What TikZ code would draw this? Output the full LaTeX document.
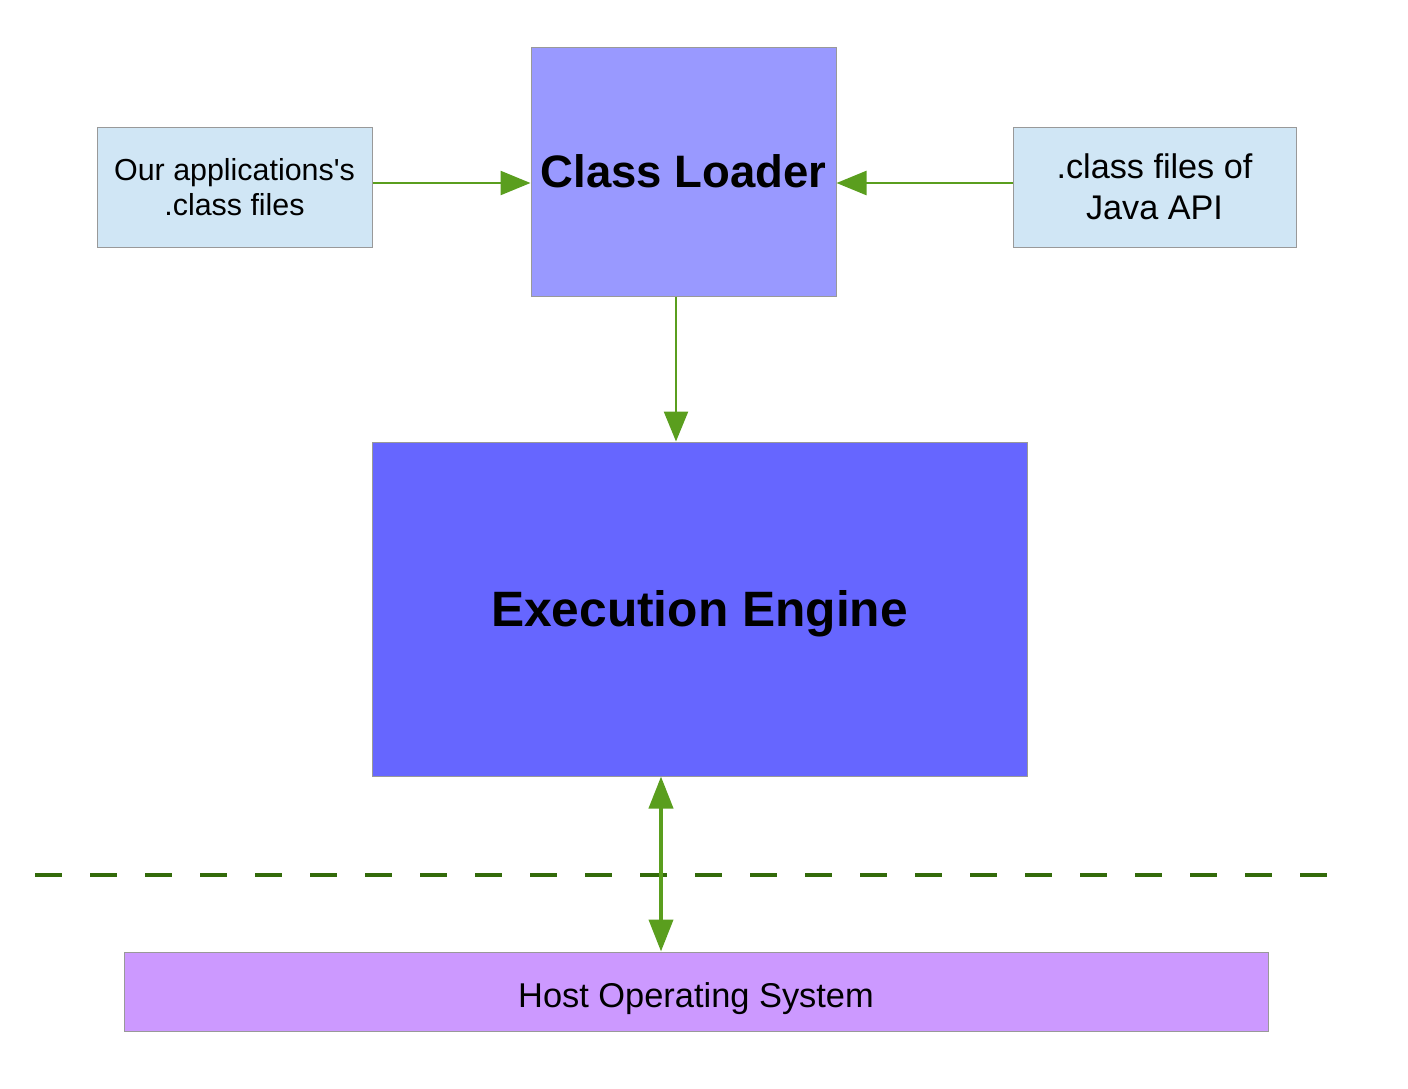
\documentclass[tikz,border=0pt]{standalone}
\usepackage{fontspec}
\setmainfont{Liberation Sans}
\usetikzlibrary{arrows.meta}
\definecolor{filebox}{HTML}{D0E6F5}
\definecolor{loaderbox}{HTML}{9999FF}
\definecolor{enginebox}{HTML}{6666FF}
\definecolor{hostbox}{HTML}{CC99FF}
\definecolor{arrowgreen}{HTML}{5A9E1E}
\definecolor{linegreen}{HTML}{336B0A}
\tikzset{
  box/.style={draw=gray!80, line width=1pt, inner sep=0pt, align=center},
  flow/.style={draw=arrowgreen, line width=2.5pt, -{Triangle[length=30pt,width=24pt]}},
}
\begin{document}
\begin{tikzpicture}[x=1pt, y=-1pt]
    \useasboundingbox (0,0) rectangle (1408,1088);

    \node[box, fill=filebox, minimum width=275pt, minimum height=120pt,
      font=\fontsize{30.4}{35}\selectfont] (app) at (234.5,187)
      {Our applications\textquotesingle s\\ .class files};
    \node[box, fill=loaderbox, minimum width=305pt, minimum height=249pt,
      font=\fontsize{45.5}{50}\selectfont\bfseries] (loader) at (683.5,171.5)
      {Class Loader};
    \node[box, fill=filebox, minimum width=283pt, minimum height=120pt,
      font=\fontsize{34.2}{41}\selectfont] (api) at (1154.5,187)
      {.class files of\\ Java API};
    \node[box, fill=enginebox, minimum width=655pt, minimum height=334pt,
      font=\fontsize{49.7}{50}\selectfont\bfseries, text height=45pt, text depth=10pt] (engine) at (699.5,609)
      {Execution Engine};
    \node[box, fill=hostbox, minimum width=1144pt, minimum height=79pt,
      font=\fontsize{34.4}{40}\selectfont, text height=38pt, text depth=7pt] (host) at (696,991.5)
      {Host Operating System};

    \draw[flow] (app.east |- 0,183) -- (loader.west |- 0,183);
    \draw[flow] (api.west |- 0,183) -- (loader.east |- 0,183);
    \draw[flow] (loader.south -| 676,0) -- (engine.north -| 676,0);

    \draw[linegreen, line width=4pt, dash pattern=on 27pt off 28pt] (35,875) -- (1330,875);
    \draw[flow, line width=4pt, {Triangle[length=32pt,width=24pt]}-{Triangle[length=32pt,width=24pt]}] (engine.south -| 661,0) -- (host.north -| 661,0);
  \end{tikzpicture}
\end{document}
